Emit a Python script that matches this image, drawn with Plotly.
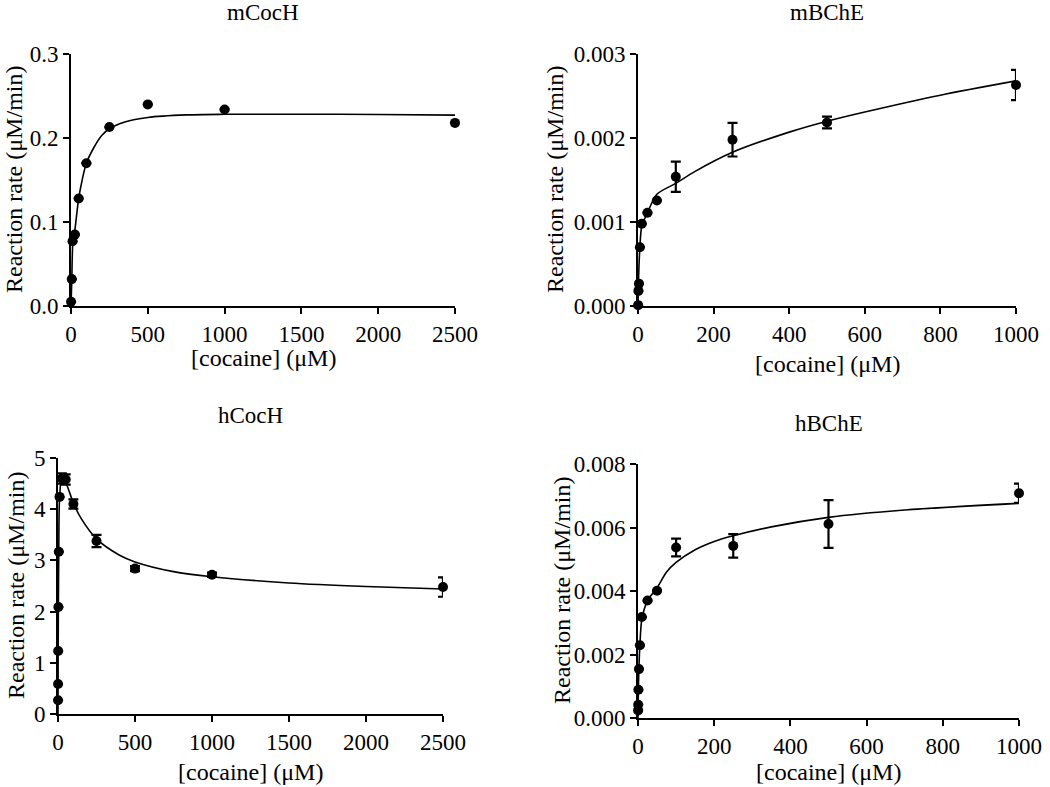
import plotly.graph_objects as go

# ---------------- data ----------------
# mCocH
mcoch_x = [0.5, 5, 10, 25, 50, 100, 250, 500, 1000, 2500]
mcoch_y = [0.005, 0.032, 0.077, 0.085, 0.128, 0.170, 0.213, 0.240, 0.234, 0.218]
mcoch_err = [0, 0, 0, 0, 0, 0, 0, 0, 0, 0]
mcoch_fit_x = [0, 5, 12, 25, 50, 75, 100, 150, 200, 250, 350, 500, 750, 1000, 1500, 2000, 2500]
mcoch_fit_y = [0.0, 0.03, 0.075, 0.09, 0.128, 0.152, 0.170, 0.189, 0.203, 0.211, 0.219,
               0.2245, 0.2275, 0.2282, 0.2283, 0.228, 0.2272]

# mBChE
mbche_x = [0.25, 1, 2.5, 5, 10, 25, 50, 100, 250, 500, 1000]
mbche_y = [0.00001, 0.00018, 0.000266, 0.00070, 0.00098, 0.00111, 0.001256, 0.001538,
           0.00198, 0.002185, 0.00263]
mbche_err = [0, 0, 0, 0, 0, 0, 0, 0.00018, 0.0002, 0.00007, 0.00018]
mbche_fit_x = [0, 2, 5, 10, 25, 50, 100, 150, 250, 400, 500, 600, 800, 1000]
mbche_fit_y = [0.0, 0.0004, 0.0007, 0.00095, 0.00111, 0.00133, 0.00146, 0.00160, 0.00183,
               0.00207, 0.00220, 0.00231, 0.00251, 0.00268]

# hCocH
hcoch_x = [0.25, 0.5, 1, 2.5, 5, 10, 25, 50, 100, 250, 500, 1000, 2500]
hcoch_y = [0.27, 0.585, 1.23, 2.09, 3.17, 4.24, 4.60, 4.58, 4.10, 3.38, 2.84, 2.72, 2.48]
hcoch_err = [0, 0, 0, 0, 0, 0, 0.1, 0.1, 0.09, 0.12, 0.05, 0.04, 0.19]
hcoch_fit_x = [0, 1, 2.5, 5, 10, 25, 50, 100, 150, 250, 400, 500, 750, 1000, 1500, 2000, 2500]
hcoch_fit_y = [0.0, 1.2, 2.1, 3.2, 4.2, 4.6, 4.52, 4.12, 3.82, 3.42, 3.10, 2.97, 2.78, 2.68,
               2.56, 2.49, 2.44]

# hBChE
hbche_x = [0.25, 0.5, 1, 2.5, 5, 10, 25, 50, 100, 250, 500, 1000]
hbche_y = [0.00024, 0.00042, 0.00089, 0.00154, 0.00229, 0.00318, 0.0037, 0.00401,
           0.00537, 0.00542, 0.00611, 0.00708]
hbche_err = [0, 0, 0, 0, 0, 0, 0, 0, 0.00028, 0.00037, 0.00075, 0.0003]
hbche_fit_x = [0, 1, 2.5, 5, 10, 25, 50, 75, 100, 150, 200, 250, 350, 500, 700, 1000]
hbche_fit_y = [0.0, 0.0009, 0.0016, 0.0023, 0.0031, 0.0037, 0.0041, 0.0046, 0.0049, 0.0053,
               0.00556, 0.00574, 0.00602, 0.00632, 0.00655, 0.00676]

titles = ["mCocH", "mBChE", "hCocH", "hBChE"]
x_title = "[cocaine] (μM)"
y_title = "Reaction rate (μM/min)"

# ---------------- layout geometry ----------------
W, H = 1050, 787
FONT = "Liberation Serif, Times New Roman, serif"

panels = [
    dict(x=mcoch_x, y=mcoch_y, e=mcoch_err, fx=mcoch_fit_x, fy=mcoch_fit_y,
         px=(71, 455), py=(54, 306), xr=[0, 2500], xd=500, yr=[0, 0.3], yd=0.1, yf=".1f",
         title_y=12, xt_y=358, yt_x=14),
    dict(x=mbche_x, y=mbche_y, e=mbche_err, fx=mbche_fit_x, fy=mbche_fit_y,
         px=(638, 1016), py=(54, 306), xr=[0, 1000], xd=200, yr=[0, 0.003], yd=0.001, yf=".3f",
         title_y=12, xt_y=364, yt_x=555),
    dict(x=hcoch_x, y=hcoch_y, e=hcoch_err, fx=hcoch_fit_x, fy=hcoch_fit_y,
         px=(58, 443), py=(458, 714), xr=[0, 2500], xd=500, yr=[0, 5], yd=1, yf="d",
         title_y=415, xt_y=772, yt_x=16),
    dict(x=hbche_x, y=hbche_y, e=hbche_err, fx=hbche_fit_x, fy=hbche_fit_y,
         px=(638, 1019), py=(464, 718), xr=[0, 1000], xd=200, yr=[0, 0.008], yd=0.002, yf=".3f",
         title_y=423, xt_y=772, yt_x=562),
]

fig = go.Figure()
annotations = []
layout = {}

for i, p in enumerate(panels):
    n = "" if i == 0 else str(i + 1)
    xa, ya = "x" + n, "y" + n
    fig.add_trace(go.Scatter(x=p["fx"], y=p["fy"], mode="lines", xaxis=xa, yaxis=ya,
                             line=dict(color="black", width=1.6, shape="spline", smoothing=0.8),
                             showlegend=False, hoverinfo="skip", cliponaxis=False))
    fig.add_trace(go.Scatter(x=p["x"], y=p["y"], mode="markers", xaxis=xa, yaxis=ya,
                             marker=dict(color="black", size=10, symbol="circle"),
                             error_y=dict(type="data", array=p["e"], visible=True,
                                          color="black", thickness=2.2, width=5),
                             showlegend=False, cliponaxis=False))
    x0, x1 = p["px"]
    y0, y1 = p["py"]
    common = dict(showgrid=False, zeroline=False, showline=True, linecolor="black",
                  linewidth=2, ticks="outside", ticklen=6, tickwidth=2, tickcolor="black",
                  automargin=False,
                  tickfont=dict(family=FONT, size=23, color="black"))
    layout["xaxis" + n] = dict(domain=[x0 / W, x1 / W], anchor=ya, range=p["xr"],
                               tick0=0, dtick=p["xd"], **common)
    layout["yaxis" + n] = dict(domain=[1 - y1 / H, 1 - y0 / H], anchor=xa, range=p["yr"],
                               tick0=0, dtick=p["yd"], tickformat=p["yf"], **common)
    cx = (x0 + x1) / 2
    annotations.append(dict(text=titles[i], x=cx / W, y=1 - p["title_y"] / H, xref="paper",
                            yref="paper", showarrow=False, xanchor="center", yanchor="middle",
                            font=dict(family=FONT, size=23, color="black")))
    annotations.append(dict(text=x_title, x=cx / W, y=1 - p["xt_y"] / H, xref="paper",
                            yref="paper", showarrow=False, xanchor="center", yanchor="middle",
                            font=dict(family=FONT, size=24, color="black")))
    annotations.append(dict(text=y_title, x=p["yt_x"] / W, y=1 - ((y0 + y1) / 2) / H,
                            xref="paper", yref="paper", showarrow=False, textangle=-90,
                            xanchor="center", yanchor="middle",
                            font=dict(family=FONT, size=24, color="black")))

fig.update_layout(width=W, height=H, margin=dict(l=0, r=0, t=0, b=0),
                  template="none",
                  paper_bgcolor="white", plot_bgcolor="white",
                  annotations=annotations, **layout)

fig.write_html("out.html", config={"displayModeBar": False},
               post_script="document.body.style.margin='0';document.body.style.padding='0';")
